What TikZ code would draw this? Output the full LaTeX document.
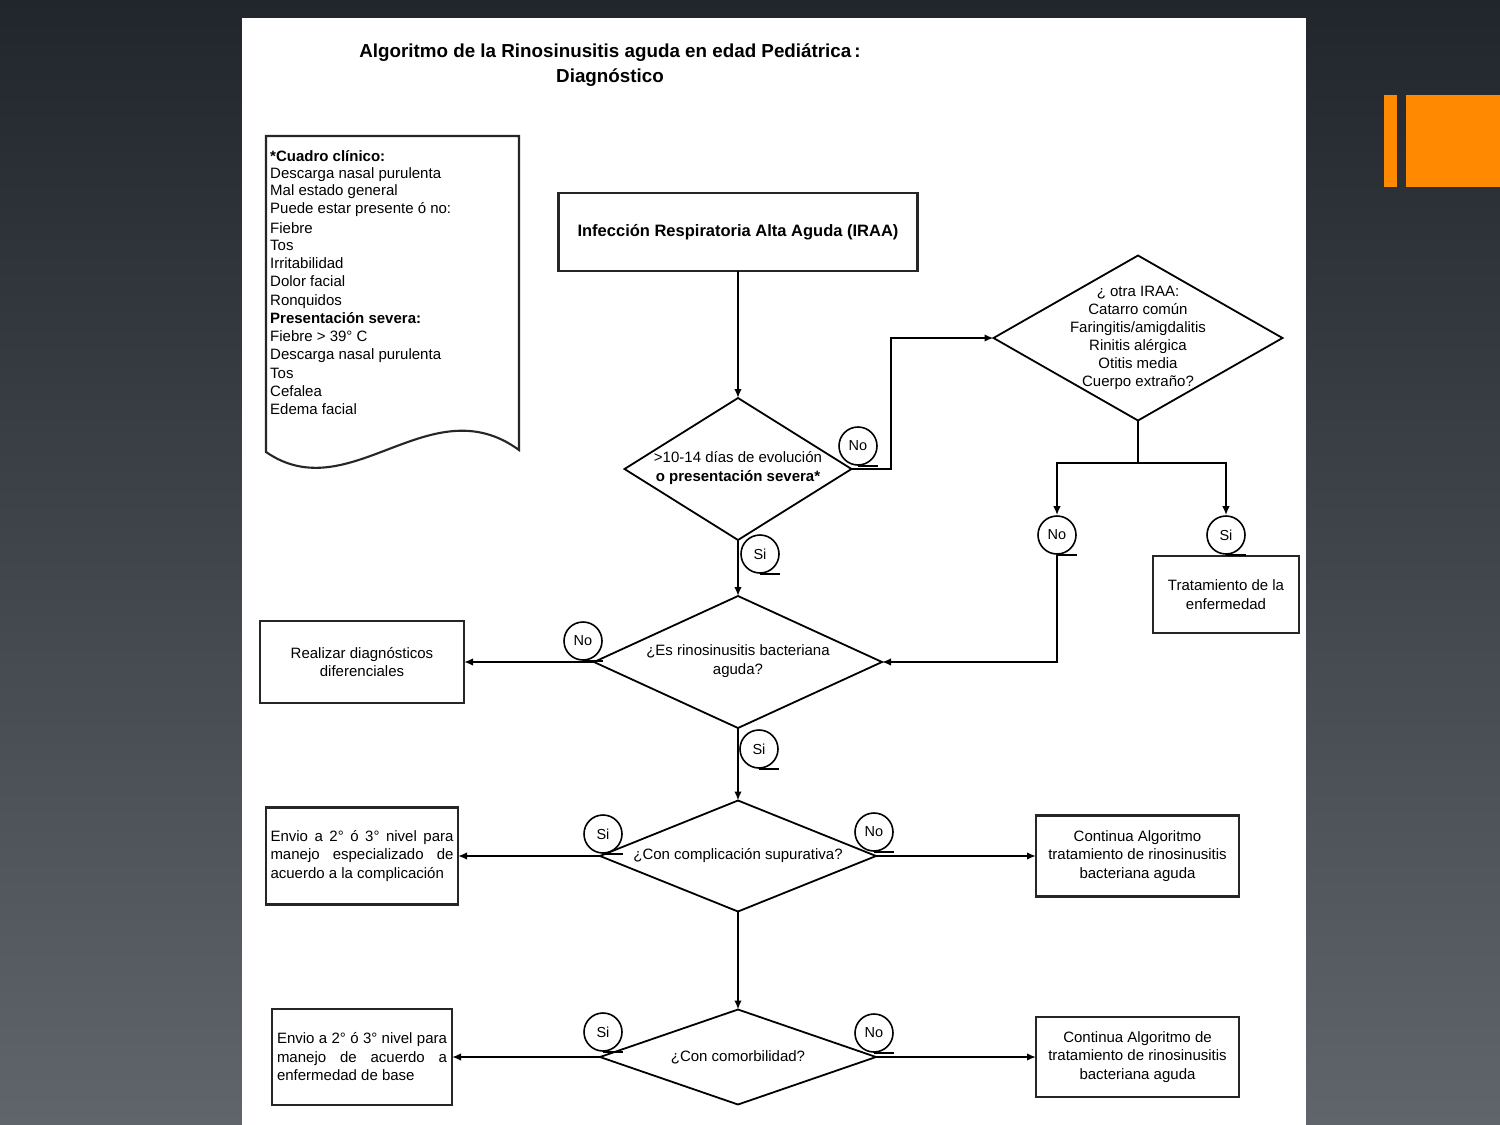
\documentclass[tikz,border=0pt]{standalone}
\usepackage{fontspec}
\setmainfont{Liberation Sans}
\usetikzlibrary{arrows.meta,shapes.geometric}
\definecolor{bgtop}{RGB}{33,38,45}
\definecolor{bgbot}{RGB}{96,101,108}
\definecolor{orng}{RGB}{255,137,0}
\begin{document}
\begin{tikzpicture}[x=1pt,y=-1pt,
  fnt/.style={font=\fontsize{15}{18.5}\selectfont},
  box/.style={draw=black!85, line width=2.1pt, rectangle, inner sep=0pt, outer sep=0pt, fnt, align=center},
  dia/.style={draw=black, line width=1.8pt, diamond, inner sep=0pt, outer sep=0pt},
  lab/.style={draw=black, line width=1.6pt, circle, minimum size=38pt, inner sep=0pt, font=\fontsize{14.5}{14.5}\selectfont},
  arr/.style={line width=2pt, -{Latex[length=9pt,width=7.5pt]}},
  ln/.style={line width=2pt},
  docline/.style={anchor=base west, inner sep=0pt, font=\fontsize{15}{18}\selectfont},
]
\useasboundingbox (0,0) rectangle (1500,1125);
\shade[top color=bgtop, bottom color=bgbot] (0,0) rectangle (1500,1125);
\fill[white] (242,18) rectangle (1306,1125);
\fill[orng] (1384,95) rectangle (1397,187);
\fill[orng] (1406,95) rectangle (1500,187);

% title
\node[align=center, font=\fontsize{18.8}{25}\bfseries\selectfont] (title) at (610,65)
  {Algoritmo de la Rinosinusitis aguda en edad Pediátrica\,:\\Diagnóstico};

% document shape
\draw[draw=black!85, line width=2.1pt] (266,136) -- (519,136) -- (519,450)
  .. controls (430,385) and (350,510) .. (266,452) -- cycle;
\foreach \t/\yy in {{\textbf{*Cuadro clínico:}}/156, {Descarga nasal purulenta}/173, {Mal estado general}/190,
  {Puede estar presente ó no:}/208, {Fiebre}/228, {Tos}/245, {Irritabilidad}/263, {Dolor facial}/281,
  {Ronquidos}/300, {\textbf{Presentación severa:}}/318, {Fiebre > 39° C}/336, {Descarga nasal purulenta}/354,
  {Tos}/373, {Cefalea}/391, {Edema facial}/409}
  \node[docline] at (270,\yy+5.4) {\t};

% boxes
\node[box, minimum width=359pt, minimum height=78pt, font=\fontsize{16.5}{20}\bfseries\selectfont] (iraa) at (738,232)
  {Infección Respiratoria Alta Aguda (IRAA)};
\node[box, minimum width=146pt, minimum height=77pt] (trat) at (1226,594.5) {Tratamiento de la\\enfermedad};
\node[box, minimum width=204pt, minimum height=82pt] (real) at (362,662) {Realizar diagnósticos\\diferenciales};
\node[box, minimum width=192pt, minimum height=97pt, align=left] (env1) at (362,856)
  {\makebox[183pt][s]{Envio a 2° ó 3° nivel para}\\\makebox[183pt][s]{manejo especializado de}\\acuerdo a la complicación};
\node[box, minimum width=203pt, minimum height=81pt] (cont1) at (1137.5,856)
  {Continua Algoritmo\\tratamiento de rinosinusitis\\bacteriana aguda};
\node[box, minimum width=180pt, minimum height=96pt, align=left] (env2) at (362,1057)
  {\makebox[170pt][s]{Envio a 2° ó 3° nivel para}\\\makebox[170pt][s]{manejo de acuerdo a}\\enfermedad de base};
\node[box, minimum width=203pt, minimum height=80pt] (cont2) at (1137.5,1057)
  {Continua Algoritmo de\\tratamiento de rinosinusitis\\bacteriana aguda};

% diamonds
\node[dia, minimum width=227pt, minimum height=142pt] (d1) at (738,469) {};
\node[fnt, align=center] at (738,468) {>10-14 días de evolución\\\textbf{o presentación severa*}};
\node[dia, minimum width=289pt, minimum height=165pt] (d2) at (1138,338) {};
\node[align=center, font=\fontsize{15}{18}\selectfont] at (1138,338)
  {¿ otra IRAA:\\Catarro común\\Faringitis/amigdalitis\\Rinitis alérgica\\Otitis media\\Cuerpo extraño?};
\node[dia, minimum width=288pt, minimum height=132pt] (d3) at (738,662) {};
\node[fnt, align=center] at (738,661) {¿Es rinosinusitis bacteriana\\aguda?};
\node[dia, minimum width=276pt, minimum height=111pt] (d4) at (738,856) {};
\node[fnt] at (738,856) {¿Con complicación supurativa?};
\node[dia, minimum width=276pt, minimum height=95pt] (d5) at (738,1057) {};
\node[fnt] at (738,1057) {¿Con comorbilidad?};

% connectors
\draw[arr] (iraa.south) -- (d1.north);
\draw[arr] (d1.east) -- ++(39,0) |- (d2.west);
\coordinate (sp) at (1138,463);
\draw[ln] (d2.south) -- (sp);

% labels (circles)
\node[lab, fill=white] (no1) at (858,446) {No};
\node[lab] (si1) at (760,554) {Si};
\node[lab] (no2) at (1057,535) {No};
\node[lab] (si2) at (1226,535) {Si};
\node[lab] (no3) at (583,641) {No};
\node[lab] (si3) at (759,749) {Si};
\node[lab] (si4) at (603,834) {Si};
\node[lab] (no4) at (874,832) {No};
\node[lab] (si5) at (603,1032) {Si};
\node[lab] (no5) at (874,1033) {No};
\foreach \c in {no1,si1,no2,si2,no3,si3,si4,no4,si5,no5}
  \draw[line width=1.6pt] (\c.south) -- ++(20,0);

\draw[arr] (sp) -| (no2.north);
\draw[arr] (sp) -| (si2.north);
\draw[arr] (no2.south) |- (d3.east);
\draw[arr] (d1.south) -- (d3.north);
\draw[arr] (d3.west) -- (real.east);
\draw[arr] (d3.south) -- (d4.north);
\draw[arr] (d4.west) -- (env1.east);
\draw[arr] (d4.east) -- (cont1.west);
\draw[arr] (d4.south) -- (d5.north);
\draw[arr] (d5.west) -- (env2.east);
\draw[arr] (d5.east) -- (cont2.west);
\end{tikzpicture}
\end{document}
